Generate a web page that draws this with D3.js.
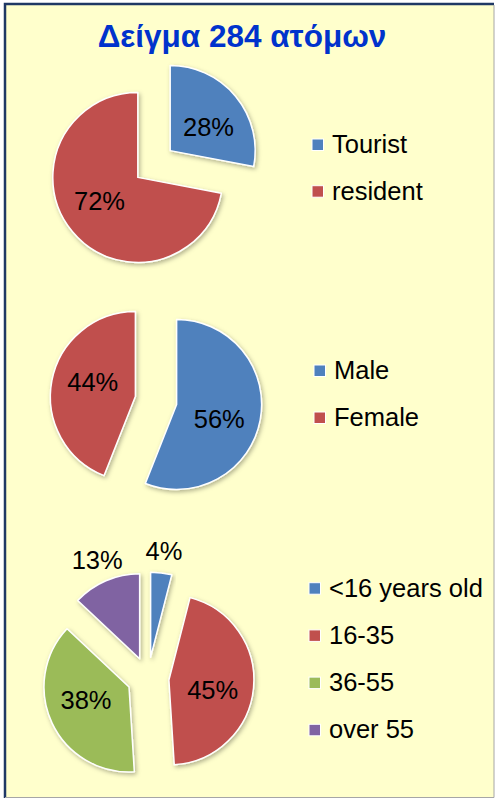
<!DOCTYPE html>
<html lang="el">
<head>
    <meta charset="UTF-8">
    <title>Δείγμα 284 ατόμων</title>
    <script type="text/javascript" src="https://cdn.jsdelivr.net/npm/d3@7"></script>
    <style type="text/css">
        body { margin: 0; background: #ffffff; }
        svg text { font-family: "Liberation Sans", Arial, Helvetica, sans-serif; }
    </style>
</head>
<body>
    <script type="text/javascript">
        // data
        var title = "Δείγμα 284 ατόμων";

        var visitorLabels = ["Tourist", "resident"];
        var visitorValues = [28, 72];

        var genderLabels = ["Male", "Female"];
        var genderValues = [56, 44];

        var ageLabels = ["<16 years old", "16-35", "36-55", "over 55"];
        var ageValues = [4, 45, 38, 13];

        var colors = ["#4f81bd", "#c0504d", "#9bbb59", "#8064a2"];

        var width = 495;
        var height = 799;
        var radius = 85;
        var explode = 21;
        var labelFont = 25.5;
        var labelTurn = 8 * Math.PI / 180;   // inside labels sit a little clockwise of the bisector

        // one block per pie: centre of pie, legend anchor
        var charts = [
            { labels: visitorLabels, values: visitorValues, cx: 154, cy: 164, legendX: 312, legendY: 153, legendStep: 46.7 },
            { labels: genderLabels, values: genderValues, cx: 156, cy: 400.5, legendX: 314, legendY: 379, legendStep: 47 },
            { labels: ageLabels, values: ageValues, cx: 148, cy: 678, legendX: 309, legendY: 596.7, legendStep: 47.2 }
        ];

        var svg = d3.select('body')
            .append('svg')
            .attr('width', width)
            .attr('height', height);

        var defs = svg.append('defs');
        defs.append('filter')
            .attr('id', 'shadow')
            .attr('x', '-20%').attr('y', '-20%')
            .attr('width', '140%').attr('height', '140%')
            .append('feDropShadow')
            .attr('dx', 1.5)
            .attr('dy', 2)
            .attr('stdDeviation', 2)
            .attr('flood-color', '#000')
            .attr('flood-opacity', 0.3);

        // panel
        svg.append('rect')
            .attr('x', 4).attr('y', 3)
            .attr('width', 490).attr('height', 795)
            .attr('fill', '#ffffcc');
        svg.append('path')
            .attr('d', 'M5,798 L5,4 L494,4')
            .attr('fill', 'none')
            .attr('stroke', '#1f3864')
            .attr('stroke-width', 2.5);
        svg.append('path')
            .attr('d', 'M494,5 L494,797.5 L5,797.5')
            .attr('fill', 'none')
            .attr('stroke', '#a6a6a6')
            .attr('stroke-width', 1);

        svg.append('text')
            .attr('x', 242)
            .attr('y', 47)
            .attr('text-anchor', 'middle')
            .attr('font-size', 31.5)
            .attr('font-weight', 'bold')
            .attr('fill', '#0033cc')
            .text(title);

        var pie = d3.pie().sort(null).value(function (d) { return d; });
        var arc = d3.arc().innerRadius(0).outerRadius(radius);
        var shift = d3.arc().innerRadius(explode).outerRadius(explode);

        charts.forEach(function (chart) {
            var total = d3.sum(chart.values);
            var arcs = pie(chart.values);
            var g = svg.append('g')
                .attr('transform', 'translate(' + chart.cx + ',' + chart.cy + ')');

            g.selectAll('path')
                .data(arcs)
                .enter()
                .append('path')
                .attr('transform', function (d) { return 'translate(' + shift.centroid(d) + ')'; })
                .attr('d', arc)
                .attr('fill', function (d, i) { return colors[i]; })
                .attr('stroke', '#ffffff')
                .attr('stroke-width', 1.5)
                .attr('stroke-linejoin', 'round')
                .attr('filter', 'url(#shadow)');

            g.selectAll('text')
                .data(arcs)
                .enter()
                .append('text')
                .attr('transform', function (d) {
                    var share = d.value / total;
                    var a = (d.startAngle + d.endAngle) / 2;
                    if (share < 0.2) {
                        // small slices: label outside the pie
                        return 'translate(' + (Math.sin(a) * 128) + ',' + (-Math.cos(a) * 128) + ')';
                    }
                    var sx = Math.sin(a) * explode, sy = -Math.cos(a) * explode;
                    var b = a + labelTurn;
                    return 'translate(' + (sx + Math.sin(b) * 45) + ',' + (sy - Math.cos(b) * 45) + ')';
                })
                .attr('dy', '0.35em')
                .attr('text-anchor', 'middle')
                .attr('font-size', labelFont)
                .attr('fill', '#000')
                .text(function (d) { return Math.round(d.value / total * 100) + '%'; });

            var legend = svg.append('g')
                .selectAll('g')
                .data(chart.labels)
                .enter()
                .append('g')
                .attr('transform', function (d, i) {
                    return 'translate(' + chart.legendX + ',' + (chart.legendY + i * chart.legendStep) + ')';
                });
            legend.append('rect')
                .attr('x', 0)
                .attr('y', -14)
                .attr('width', 11.5)
                .attr('height', 11.5)
                .attr('fill', function (d, i) { return colors[i]; })
                .attr('stroke', '#ffffff')
                .attr('stroke-width', 1);
            legend.append('text')
                .attr('x', 20)
                .attr('y', 0)
                .attr('font-size', labelFont)
                .attr('fill', '#000')
                .text(function (d) { return d; });
        });
    </script>
</body>
</html>
